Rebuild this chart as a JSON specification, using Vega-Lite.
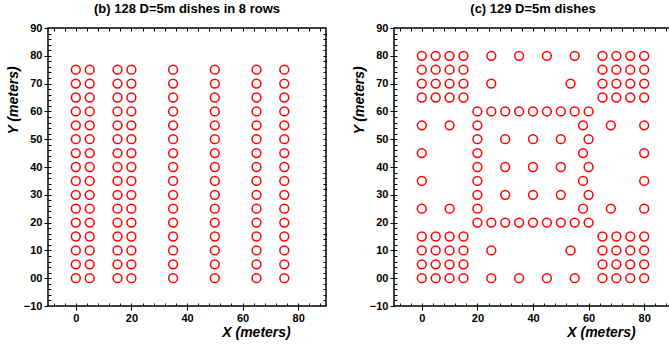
{
  "$schema": "https://vega.github.io/schema/vega-lite/v6.json",
  "padding": {"left": 5, "top": 2, "right": 0, "bottom": 0},
  "background": "white",
  "spacing": 23,
  "config": {
    "font": "Liberation Sans",
    "view": {"stroke": "black", "strokeWidth": 1.5},
    "axis": {"domain": false, "grid": false, "tickColor": "black", "tickWidth": 1, "labelColor": "black", "titleColor": "black", "labelFont": "Liberation Sans", "titleFont": "Liberation Sans", "labelFontSize": 11, "labelFontWeight": "bold"},
    "title": {"font": "Liberation Sans", "fontSize": 13, "fontWeight": "bold", "color": "black", "anchor": "middle", "baseline": "alphabetic", "offset": 6}
  },
  "datasets": {
    "b": [
      {"x":0,"y":0},{"x":5,"y":0},{"x":15,"y":0},{"x":20,"y":0},{"x":35,"y":0},{"x":50,"y":0},{"x":65,"y":0},{"x":75,"y":0},
      {"x":0,"y":5},{"x":5,"y":5},{"x":15,"y":5},{"x":20,"y":5},{"x":35,"y":5},{"x":50,"y":5},{"x":65,"y":5},{"x":75,"y":5},
      {"x":0,"y":10},{"x":5,"y":10},{"x":15,"y":10},{"x":20,"y":10},{"x":35,"y":10},{"x":50,"y":10},{"x":65,"y":10},{"x":75,"y":10},
      {"x":0,"y":15},{"x":5,"y":15},{"x":15,"y":15},{"x":20,"y":15},{"x":35,"y":15},{"x":50,"y":15},{"x":65,"y":15},{"x":75,"y":15},
      {"x":0,"y":20},{"x":5,"y":20},{"x":15,"y":20},{"x":20,"y":20},{"x":35,"y":20},{"x":50,"y":20},{"x":65,"y":20},{"x":75,"y":20},
      {"x":0,"y":25},{"x":5,"y":25},{"x":15,"y":25},{"x":20,"y":25},{"x":35,"y":25},{"x":50,"y":25},{"x":65,"y":25},{"x":75,"y":25},
      {"x":0,"y":30},{"x":5,"y":30},{"x":15,"y":30},{"x":20,"y":30},{"x":35,"y":30},{"x":50,"y":30},{"x":65,"y":30},{"x":75,"y":30},
      {"x":0,"y":35},{"x":5,"y":35},{"x":15,"y":35},{"x":20,"y":35},{"x":35,"y":35},{"x":50,"y":35},{"x":65,"y":35},{"x":75,"y":35},
      {"x":0,"y":40},{"x":5,"y":40},{"x":15,"y":40},{"x":20,"y":40},{"x":35,"y":40},{"x":50,"y":40},{"x":65,"y":40},{"x":75,"y":40},
      {"x":0,"y":45},{"x":5,"y":45},{"x":15,"y":45},{"x":20,"y":45},{"x":35,"y":45},{"x":50,"y":45},{"x":65,"y":45},{"x":75,"y":45},
      {"x":0,"y":50},{"x":5,"y":50},{"x":15,"y":50},{"x":20,"y":50},{"x":35,"y":50},{"x":50,"y":50},{"x":65,"y":50},{"x":75,"y":50},
      {"x":0,"y":55},{"x":5,"y":55},{"x":15,"y":55},{"x":20,"y":55},{"x":35,"y":55},{"x":50,"y":55},{"x":65,"y":55},{"x":75,"y":55},
      {"x":0,"y":60},{"x":5,"y":60},{"x":15,"y":60},{"x":20,"y":60},{"x":35,"y":60},{"x":50,"y":60},{"x":65,"y":60},{"x":75,"y":60},
      {"x":0,"y":65},{"x":5,"y":65},{"x":15,"y":65},{"x":20,"y":65},{"x":35,"y":65},{"x":50,"y":65},{"x":65,"y":65},{"x":75,"y":65},
      {"x":0,"y":70},{"x":5,"y":70},{"x":15,"y":70},{"x":20,"y":70},{"x":35,"y":70},{"x":50,"y":70},{"x":65,"y":70},{"x":75,"y":70},
      {"x":0,"y":75},{"x":5,"y":75},{"x":15,"y":75},{"x":20,"y":75},{"x":35,"y":75},{"x":50,"y":75},{"x":65,"y":75},{"x":75,"y":75}
    ],
    "c": [
      {"x":0,"y":80},{"x":5,"y":80},{"x":10,"y":80},{"x":15,"y":80},{"x":25,"y":80},{"x":35,"y":80},{"x":45,"y":80},{"x":55,"y":80},{"x":65,"y":80},{"x":70,"y":80},{"x":75,"y":80},{"x":80,"y":80},
      {"x":0,"y":75},{"x":5,"y":75},{"x":10,"y":75},{"x":15,"y":75},{"x":65,"y":75},{"x":70,"y":75},{"x":75,"y":75},{"x":80,"y":75},
      {"x":0,"y":70},{"x":5,"y":70},{"x":10,"y":70},{"x":15,"y":70},{"x":25,"y":70},{"x":53.5,"y":70},{"x":65,"y":70},{"x":70,"y":70},{"x":75,"y":70},{"x":80,"y":70},
      {"x":0,"y":65},{"x":5,"y":65},{"x":10,"y":65},{"x":15,"y":65},{"x":65,"y":65},{"x":70,"y":65},{"x":75,"y":65},{"x":80,"y":65},
      {"x":20,"y":60},{"x":25,"y":60},{"x":30,"y":60},{"x":35,"y":60},{"x":40,"y":60},{"x":45,"y":60},{"x":50,"y":60},{"x":55,"y":60},{"x":60,"y":60},
      {"x":0,"y":55},{"x":10,"y":55},{"x":20,"y":55},{"x":58,"y":55},{"x":68,"y":55},{"x":80,"y":55},
      {"x":20,"y":50},{"x":30,"y":50},{"x":40,"y":50},{"x":50,"y":50},{"x":60,"y":50},
      {"x":0,"y":45},{"x":20,"y":45},{"x":58,"y":45},{"x":80,"y":45},
      {"x":20,"y":40},{"x":30,"y":40},{"x":40,"y":40},{"x":50,"y":40},{"x":60,"y":40},
      {"x":0,"y":35},{"x":20,"y":35},{"x":58,"y":35},{"x":80,"y":35},
      {"x":20,"y":30},{"x":30,"y":30},{"x":40,"y":30},{"x":50,"y":30},{"x":60,"y":30},
      {"x":0,"y":25},{"x":10,"y":25},{"x":20,"y":25},{"x":58,"y":25},{"x":68,"y":25},{"x":80,"y":25},
      {"x":20,"y":20},{"x":25,"y":20},{"x":30,"y":20},{"x":35,"y":20},{"x":40,"y":20},{"x":45,"y":20},{"x":50,"y":20},{"x":55,"y":20},{"x":60,"y":20},
      {"x":0,"y":15},{"x":5,"y":15},{"x":10,"y":15},{"x":15,"y":15},{"x":65,"y":15},{"x":70,"y":15},{"x":75,"y":15},{"x":80,"y":15},
      {"x":0,"y":10},{"x":5,"y":10},{"x":10,"y":10},{"x":15,"y":10},{"x":25,"y":10},{"x":53.5,"y":10},{"x":65,"y":10},{"x":70,"y":10},{"x":75,"y":10},{"x":80,"y":10},
      {"x":0,"y":5},{"x":5,"y":5},{"x":10,"y":5},{"x":15,"y":5},{"x":65,"y":5},{"x":70,"y":5},{"x":75,"y":5},{"x":80,"y":5},
      {"x":0,"y":0},{"x":5,"y":0},{"x":10,"y":0},{"x":15,"y":0},{"x":25,"y":0},{"x":35,"y":0},{"x":45,"y":0},{"x":55,"y":0},{"x":65,"y":0},{"x":70,"y":0},{"x":75,"y":0},{"x":80,"y":0}
    ]
  },
  "hconcat": [
    {
      "width": 278, "height": 278,
      "title": "(b) 128 D=5m dishes in 8 rows",
      "data": {"name": "b"},
      "layer": [
        {
          "mark": {"type": "point", "shape": "circle", "filled": false, "color": "#ff0000", "size": 78, "strokeWidth": 1.5, "opacity": 1},
          "encoding": {
            "x": {"field": "x", "type": "quantitative", "scale": {"domain": [-10, 90], "nice": false, "zero": false},
              "axis": {"orient": "bottom", "values": [0, 20, 40, 60, 80], "tickSize": 4, "labelPadding": 2, "title": "X (meters)", "titleFontSize": 14, "titleFontWeight": "bold", "titleFontStyle": "italic", "titleX": 208, "titleY": 19, "titleBaseline": "top", "titleAlign": "center"}},
            "y": {"field": "y", "type": "quantitative", "scale": {"domain": [-10, 90], "nice": false, "zero": false},
              "axis": {"orient": "left", "values": [-10, 0, 10, 20, 30, 40, 50, 60, 70, 80, 90], "tickSize": 4, "labelPadding": 2, "labelExpr": "datum.value === 0 ? '00' : datum.label", "title": "Y (meters)", "titleFontSize": 14, "titleFontWeight": "bold", "titleFontStyle": "italic", "titleAngle": -90, "titleX": -28, "titleY": 72, "titleBaseline": "bottom", "titleAlign": "center"}}
          }
        },
        {
          "mark": {"type": "point", "opacity": 0},
          "encoding": {
            "x": {"field": "x", "type": "quantitative", "axis": {"orient": "bottom", "values": [-8,-4,0,4,8,12,16,20,24,28,32,36,40,44,48,52,56,60,64,68,72,76,80,84,88], "tickSize": -3, "labels": false, "title": null}},
            "y": {"field": "y", "type": "quantitative", "axis": {"orient": "left", "values": [-8,-6,-4,-2,0,2,4,6,8,10,12,14,16,18,20,22,24,26,28,30,32,34,36,38,40,42,44,46,48,50,52,54,56,58,60,62,64,66,68,70,72,74,76,78,80,82,84,86,88], "tickSize": -3, "labels": false, "title": null}}
          }
        },
        {
          "mark": {"type": "point", "opacity": 0},
          "encoding": {
            "x": {"field": "x", "type": "quantitative", "axis": {"orient": "top", "values": [-8,-4,0,4,8,12,16,20,24,28,32,36,40,44,48,52,56,60,64,68,72,76,80,84,88], "tickSize": -3, "labels": false, "title": null}},
            "y": {"field": "y", "type": "quantitative", "axis": {"orient": "right", "values": [-8,-6,-4,-2,0,2,4,6,8,10,12,14,16,18,20,22,24,26,28,30,32,34,36,38,40,42,44,46,48,50,52,54,56,58,60,62,64,66,68,70,72,74,76,78,80,82,84,86,88], "tickSize": -3, "labels": false, "title": null}}
          }
        }
      ],
      "resolve": {"axis": {"x": "independent", "y": "independent"}}
    },
    {
      "width": 278, "height": 278,
      "title": "(c) 129 D=5m dishes",
      "data": {"name": "c"},
      "layer": [
        {
          "mark": {"type": "point", "shape": "circle", "filled": false, "color": "#ff0000", "size": 78, "strokeWidth": 1.5, "opacity": 1},
          "encoding": {
            "x": {"field": "x", "type": "quantitative", "scale": {"domain": [-10, 90], "nice": false, "zero": false},
              "axis": {"orient": "bottom", "values": [0, 20, 40, 60, 80], "tickSize": 4, "labelPadding": 2, "title": "X (meters)", "titleFontSize": 14, "titleFontWeight": "bold", "titleFontStyle": "italic", "titleX": 207, "titleY": 19, "titleBaseline": "top", "titleAlign": "center"}},
            "y": {"field": "y", "type": "quantitative", "scale": {"domain": [-10, 90], "nice": false, "zero": false},
              "axis": {"orient": "left", "values": [-10, 0, 10, 20, 30, 40, 50, 60, 70, 80, 90], "tickSize": 4, "labelPadding": 2, "labelExpr": "datum.value === 0 ? '00' : datum.label", "title": "Y (meters)", "titleFontSize": 14, "titleFontWeight": "bold", "titleFontStyle": "italic", "titleAngle": -90, "titleX": -28, "titleY": 72, "titleBaseline": "bottom", "titleAlign": "center"}}
          }
        },
        {
          "mark": {"type": "point", "opacity": 0},
          "encoding": {
            "x": {"field": "x", "type": "quantitative", "axis": {"orient": "bottom", "values": [-8,-4,0,4,8,12,16,20,24,28,32,36,40,44,48,52,56,60,64,68,72,76,80,84,88], "tickSize": -3, "labels": false, "title": null}},
            "y": {"field": "y", "type": "quantitative", "axis": {"orient": "left", "values": [-8,-6,-4,-2,0,2,4,6,8,10,12,14,16,18,20,22,24,26,28,30,32,34,36,38,40,42,44,46,48,50,52,54,56,58,60,62,64,66,68,70,72,74,76,78,80,82,84,86,88], "tickSize": -3, "labels": false, "title": null}}
          }
        },
        {
          "mark": {"type": "point", "opacity": 0},
          "encoding": {
            "x": {"field": "x", "type": "quantitative", "axis": {"orient": "top", "values": [-8,-4,0,4,8,12,16,20,24,28,32,36,40,44,48,52,56,60,64,68,72,76,80,84,88], "tickSize": -3, "labels": false, "title": null}},
            "y": {"field": "y", "type": "quantitative", "axis": {"orient": "right", "values": [-8,-6,-4,-2,0,2,4,6,8,10,12,14,16,18,20,22,24,26,28,30,32,34,36,38,40,42,44,46,48,50,52,54,56,58,60,62,64,66,68,70,72,74,76,78,80,82,84,86,88], "tickSize": -3, "labels": false, "title": null}}
          }
        }
      ],
      "resolve": {"axis": {"x": "independent", "y": "independent"}}
    }
  ]
}
